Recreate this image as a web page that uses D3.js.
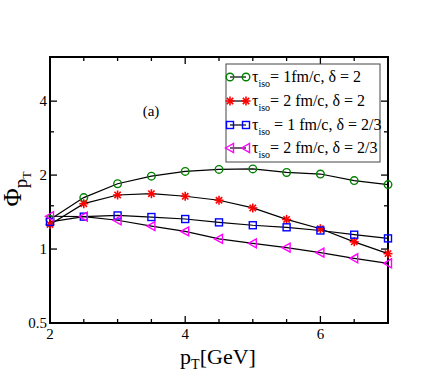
<!DOCTYPE html>
<html>
<head>
<meta charset="UTF-8">
<script src="https://d3js.org/d3.v7.min.js"></script>
<style>
  body, html { margin: 0; padding: 0; background: #fff; }
  svg { display: block; }
</style>
</head>
<body>
<svg width="436" height="382"></svg>
<script>
// data
const pt = [2, 2.5, 3, 3.5, 4, 4.5, 5, 5.5, 6, 6.5, 7];
const green = [1.32, 1.62, 1.845, 1.98, 2.07, 2.11, 2.12, 2.05, 2.02, 1.9, 1.83];
const red = [1.26, 1.53, 1.66, 1.68, 1.64, 1.58, 1.47, 1.32, 1.21, 1.07, 0.958];
const blue = [1.29, 1.355, 1.37, 1.35, 1.325, 1.284, 1.25, 1.226, 1.19, 1.144, 1.105];
const magenta = [1.36, 1.355, 1.31, 1.24, 1.18, 1.10, 1.055, 1.013, 0.967, 0.917, 0.875];
const xTicks = [2, 4, 6];
const xMinor = [2.5, 3, 3.5, 4.5, 5, 5.5, 6.5];
const yTicks = [0.5, 1, 2, 4];
const yMinor = [1.5, 3];

const series = [
  {vals: green, color: "#008000", shape: "circle", tau: "= 1fm/c, δ = 2"},
  {vals: red, color: "#ff0000", shape: "star", tau: "= 2 fm/c, δ = 2"},
  {vals: blue, color: "#0000ff", shape: "square", tau: " = 1 fm/c, δ = 2/3"},
  {vals: magenta, color: "#ff00ff", shape: "tri", tau: "= 2 fm/c, δ = 2/3"}
];

const svg = d3.select("svg")
  .attr("font-family", "'Liberation Serif', 'Times New Roman', Times, 'DejaVu Serif', serif");
const L = 50, R = 388, T = 57, B = 323;
const x = d3.scaleLinear().domain([2, 7]).range([L, R]);
const y = d3.scaleLog().domain([0.5, 6.05]).range([B, T]);

// frame
svg.append("rect").attr("x", L).attr("y", T).attr("width", R - L).attr("height", B - T)
  .attr("fill", "none").attr("stroke", "#000").attr("stroke-width", 2);

const tk = svg.append("g").attr("stroke", "#000").attr("stroke-width", 1.3);
function xt(v, len) {
  tk.append("line").attr("x1", x(v)).attr("x2", x(v)).attr("y1", B).attr("y2", B - len);
  tk.append("line").attr("x1", x(v)).attr("x2", x(v)).attr("y1", T).attr("y2", T + len);
}
function yt(v, len) {
  tk.append("line").attr("y1", y(v)).attr("y2", y(v)).attr("x1", L).attr("x2", L + len);
  tk.append("line").attr("y1", y(v)).attr("y2", y(v)).attr("x1", R).attr("x2", R - len);
}
xTicks.forEach(v => xt(v, 7));
xMinor.forEach(v => xt(v, 4));
yTicks.forEach(v => yt(v, 7));
yMinor.forEach(v => yt(v, 4));

xTicks.forEach(v => svg.append("text").attr("x", x(v)).attr("y", B + 16)
  .attr("text-anchor", "middle").attr("font-size", 15).text(v));
yTicks.forEach(v => svg.append("text").attr("x", L - 3).attr("y", y(v) + 5)
  .attr("text-anchor", "end").attr("font-size", 15).text(v));

// axis titles
const xl = svg.append("text").attr("x", 218).attr("y", 364).attr("text-anchor", "middle").attr("font-size", 22);
xl.append("tspan").text("p");
xl.append("tspan").attr("font-size", 14).attr("dy", 5).text("T");
xl.append("tspan").attr("dy", -5).text("[GeV]");

const yl = svg.append("text").attr("transform", "translate(21,189) rotate(-90)")
  .attr("text-anchor", "middle").attr("font-size", 25);
yl.append("tspan").text("Φ");
yl.append("tspan").attr("font-size", 19).attr("dy", 6).text("p");
yl.append("tspan").attr("font-size", 12).attr("dy", 4).text("T");

svg.append("text").attr("x", 151).attr("y", 116).attr("text-anchor", "middle")
  .attr("font-size", 15).text("(a)");

// markers
function marker(g, cx, cy, s) {
  if (s.shape === "circle") {
    g.append("circle").attr("cx", cx).attr("cy", cy).attr("r", 3.8)
      .attr("fill", "none").attr("stroke", s.color).attr("stroke-width", 1.4);
  } else if (s.shape === "square") {
    g.append("rect").attr("x", cx - 3.5).attr("y", cy - 3.5).attr("width", 7).attr("height", 7)
      .attr("fill", "none").attr("stroke", s.color).attr("stroke-width", 1.4);
  } else if (s.shape === "tri") {
    g.append("path").attr("d", `M${cx - 4.5},${cy}L${cx + 3.5},${cy - 4.5}L${cx + 3.5},${cy + 4.5}Z`)
      .attr("fill", "none").attr("stroke", s.color).attr("stroke-width", 1.4);
  } else {
    const r = 4.5;
    [0, 45, 90, 135].forEach(a => {
      const dx = r * Math.cos(a * Math.PI / 180), dy = r * Math.sin(a * Math.PI / 180);
      g.append("line").attr("x1", cx - dx).attr("y1", cy - dy).attr("x2", cx + dx).attr("y2", cy + dy)
        .attr("stroke", s.color).attr("stroke-width", 1.6);
    });
  }
}

const line = d3.line().x((d, i) => x(pt[i])).y(d => y(d));
series.forEach(s => {
  svg.append("path").datum(s.vals).attr("d", line)
    .attr("fill", "none").attr("stroke", "#000").attr("stroke-width", 1.2);
});
series.forEach(s => {
  const g = svg.append("g");
  s.vals.forEach((v, i) => marker(g, x(pt[i]), y(v), s));
});

// legend
svg.append("rect").attr("x", 226).attr("y", 64).attr("width", 154).attr("height", 98)
  .attr("fill", "#fff").attr("stroke", "#444").attr("stroke-width", 1);
const rows = [77, 101, 125, 148];
series.forEach((s, i) => {
  const g = svg.append("g");
  const ly = rows[i];
  g.append("line").attr("x1", 230).attr("x2", 246).attr("y1", ly).attr("y2", ly)
    .attr("stroke", "#000").attr("stroke-width", 1.2);
  marker(g, 230, ly, s);
  marker(g, 246, ly, s);
  const t = g.append("text").attr("x", 252).attr("y", ly + 5).attr("font-size", 16);
  t.append("tspan").text("τ");
  t.append("tspan").attr("font-size", 10).attr("dy", 5).text("iso");
  t.append("tspan").attr("dy", -5).text(s.tau);
});
</script>
</body>
</html>
